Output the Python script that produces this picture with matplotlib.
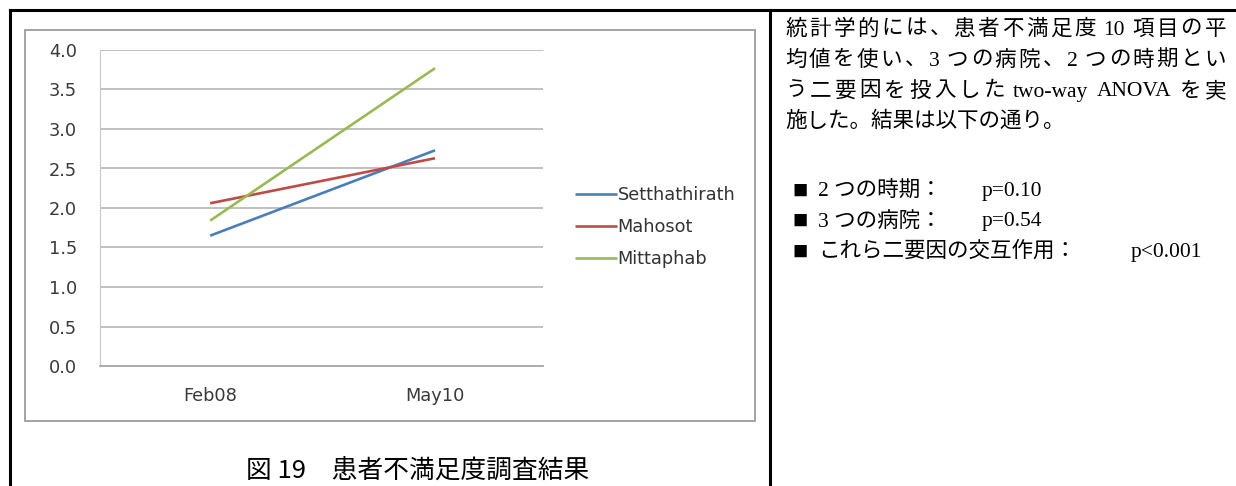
"""
Patient dissatisfaction survey (Fig. 19) with the ANOVA note beside it,
laid out like the report page: chart + caption on the left, text on the right.
"""

import matplotlib

matplotlib.use("Agg")

import matplotlib.pyplot as plt
from matplotlib.lines import Line2D
from matplotlib.patches import Rectangle

W, H = 1236, 486

periods = ["Feb08", "May10"]
hospitals = ["Setthathirath", "Mahosot", "Mittaphab"]
setthathirath = [1.65, 2.73]
mahosot = [2.06, 2.63]
mittaphab = [1.84, 3.77]
series_colors = ["#4a7ebb", "#be4b48", "#98b954"]
y_ticks = [0.0, 0.5, 1.0, 1.5, 2.0, 2.5, 3.0, 3.5, 4.0]

caption = "図 19　患者不満足度調査結果"
paragraph = [
    "統計学的には、患者不満足度 10 項目の平",
    "均値を使い、3 つの病院、2 つの時期とい",
    "う二要因を投入した two-way ANOVA を実",
]
last_line = "施した。結果は以下の通り。"
factors = ["2 つの時期：", "3 つの病院：", "これら二要因の交互作用："]
p_values = ["p=0.10", "p=0.54", "p<0.001"]

TEXT_FONT = ["Liberation Serif", "Noto Sans CJK JP"]
TEXT_SIZE = 15.5
CHART_SIZE = 12.8


def fx(px):
    return px / W


def fy(py):
    return 1 - py / H


def split_tokens(line):
    # each CJK char is its own token, ASCII runs stay together
    tokens, buf, gap = [], "", False
    for ch in line:
        if ch.isascii() and ch != " ":
            buf += ch
            continue
        if buf:
            tokens.append((buf, gap))
            buf, gap = "", False
        if ch == " ":
            gap = True
        else:
            tokens.append((ch, gap))
            gap = False
    if buf:
        tokens.append((buf, gap))
    return tokens


def justified_line(fig, renderer, line, x0, x1, y):
    tokens = split_tokens(line)
    texts = [
        fig.text(0, fy(y), tok, family=TEXT_FONT, fontsize=TEXT_SIZE,
                 va="center", ha="left")
        for tok, _ in tokens
    ]
    widths = [t.get_window_extent(renderer).width for t in texts]
    space_w = 5.0
    natural = sum(widths) + space_w * sum(1 for _, g in tokens if g)
    extra = (x1 - x0 - natural) / max(len(tokens) - 1, 1)
    x = x0
    for i, (t, (tok, gap)) in enumerate(zip(texts, tokens)):
        if gap:
            x += space_w
        if i > 0:
            x += extra
        t.set_x(fx(x))
        x += widths[i]


def main():
    fig = plt.figure(figsize=(W / 100, H / 100), dpi=100)
    fig.patch.set_facecolor("white")

    # table borders of the page
    fig.add_artist(Line2D([fx(10), 1], [fy(10), fy(10)], color="black", lw=2.2))
    fig.add_artist(Line2D([fx(10), fx(10)], [fy(10), 0], color="black", lw=2.2))
    fig.add_artist(Line2D([fx(770), fx(770)], [fy(10), 0], color="black", lw=2.2))

    # frame of the pasted chart image
    frame = Rectangle((fx(25), fy(421)), fx(755) - fx(25), fy(30) - fy(421),
                      transform=fig.transFigure, facecolor="white",
                      edgecolor="#9c9c9c", lw=1.3, zorder=-1)
    fig.add_artist(frame)

    ax = fig.add_axes([fx(100), fy(366), fx(543) - fx(100), fy(50) - fy(366)])
    ax.set_zorder(2)
    ax.patch.set_alpha(0)
    x = list(range(len(periods)))
    for name, vals, col in zip(hospitals, [setthathirath, mahosot, mittaphab],
                               series_colors):
        ax.plot(x, vals, color=col, lw=1.9, label=name, solid_capstyle="butt")

    ax.set_xlim(-0.49, 1.48)
    ax.set_ylim(0, 4)
    ax.set_yticks(y_ticks)
    ax.set_yticklabels([f"{v:.1f}" for v in y_ticks])
    ax.set_xticks(x)
    ax.set_xticklabels(periods)
    ax.yaxis.grid(True, color="#bbbbbb", lw=1.3)
    ax.set_axisbelow(True)
    for side in ["top", "right"]:
        ax.spines[side].set_visible(False)
    ax.spines["left"].set_color("#c8c8c8")
    ax.spines["bottom"].set_color("#a8a8a8")
    ax.spines["bottom"].set_linewidth(1.3)
    ax.tick_params(axis="y", length=0, pad=16.5, labelsize=CHART_SIZE,
                   labelcolor="#3a3a3a")
    ax.tick_params(axis="x", length=0, pad=15, labelsize=CHART_SIZE,
                   labelcolor="#3a3a3a")

    leg = ax.legend(loc="center left", bbox_to_anchor=(fx(575), fy(227)),
                    bbox_transform=fig.transFigure, frameon=False,
                    fontsize=CHART_SIZE, handlelength=2.35, handletextpad=0.05,
                    labelspacing=0.78, borderpad=0, borderaxespad=0)
    for t in leg.get_texts():
        t.set_color("#333333")

    fig.text(fx(418), fy(471), caption, family=["Noto Sans CJK JP"],
             fontsize=18.5, ha="center", va="center")

    renderer = fig.canvas.get_renderer()
    line_y = [30, 61, 92]
    for line, y in zip(paragraph, line_y):
        justified_line(fig, renderer, line, 785, 1226, y)
    fig.text(fx(785), fy(122), last_line, family=TEXT_FONT,
             fontsize=TEXT_SIZE, va="center")

    for i, (name, p) in enumerate(zip(factors, p_values)):
        y = 191 + i * 30.5
        fig.text(fx(792), fy(y), "■", family=["Noto Sans CJK JP"],
                 fontsize=11, va="center")
        fig.text(fx(818), fy(y), name, family=TEXT_FONT, fontsize=TEXT_SIZE,
                 va="center")
        px = 982 if i < 2 else 1131
        fig.text(fx(px), fy(y), p, family=TEXT_FONT, fontsize=TEXT_SIZE,
                 va="center")

    fig.savefig("out.png", dpi=100)
    plt.close(fig)


if __name__ == "__main__":
    main()
